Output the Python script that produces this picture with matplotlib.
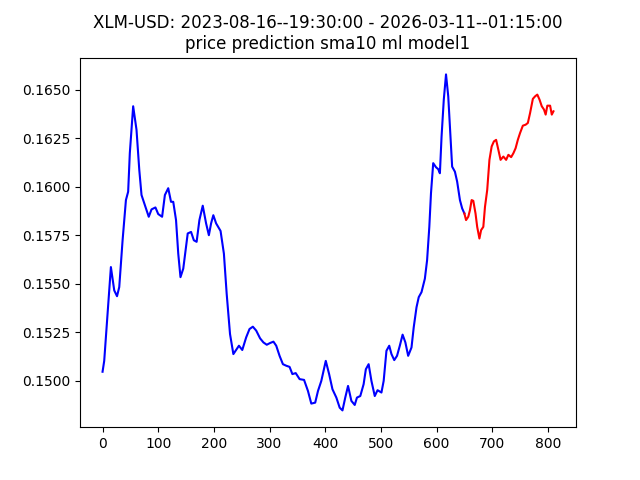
import matplotlib
matplotlib.use("Agg")
import matplotlib.pyplot as plt

# ----------------- DATA -----------------
title = "XLM-USD: 2023-08-16--19:30:00 - 2026-03-11--01:15:00\nprice prediction sma10 ml model1"

hist_x = [0, 3, 9, 15, 21, 26, 30, 36, 42, 46, 49, 55, 61, 66, 70, 78, 83, 88,
          95, 100, 107, 112, 118, 123, 127, 132, 136, 140, 145, 153, 159, 164,
          169, 174, 180, 186, 191, 195, 199, 204, 212, 218, 223, 229, 235, 245,
          251, 258, 264, 270, 276, 283, 289, 295, 301, 307, 312, 318, 324, 330,
          336, 341, 347, 354, 362, 369, 375, 382, 387, 393, 401, 407, 413, 420,
          426, 431, 436, 441, 447, 453, 457, 463, 469, 473, 478, 483, 489, 494,
          501, 505, 510, 515, 519, 524, 529, 534, 539, 544, 549, 555, 559, 564,
          568, 573, 579, 583, 587, 590, 594, 599, 603, 606, 609, 613, 617, 621,
          624, 628, 633, 637, 642, 646, 650]
hist_y = [0.15047, 0.15103, 0.15345, 0.15586, 0.15466, 0.15436, 0.15483,
          0.15724, 0.15931, 0.15974, 0.16173, 0.16414, 0.16293, 0.16086,
          0.15957, 0.15888, 0.15845, 0.15883, 0.15893, 0.15859, 0.15845,
          0.15957, 0.15992, 0.15922, 0.15922, 0.15828, 0.15655, 0.15534,
          0.15578, 0.15759, 0.15767, 0.15724, 0.15716, 0.15828, 0.15902,
          0.15811, 0.15750, 0.15811, 0.15853, 0.15811, 0.15772, 0.15655,
          0.15448, 0.15241, 0.15138, 0.15181, 0.15159, 0.15224, 0.15267,
          0.15279, 0.15259, 0.15219, 0.15198, 0.15186, 0.15195, 0.15202,
          0.15181, 0.15129, 0.15086, 0.15078, 0.15072, 0.15035, 0.15040,
          0.15009, 0.15005, 0.14948, 0.14883, 0.14888, 0.14948, 0.15000,
          0.15103, 0.15035, 0.14957, 0.14914, 0.14862, 0.14848, 0.14914,
          0.14974, 0.14897, 0.14876, 0.14914, 0.14922, 0.14983, 0.15060,
          0.15086, 0.15000, 0.14922, 0.14952, 0.14940, 0.15000, 0.15155,
          0.15181, 0.15138, 0.15107, 0.15129, 0.15181, 0.15238, 0.15198,
          0.15129, 0.15172, 0.15276, 0.15379, 0.15431, 0.15457, 0.15526,
          0.15621, 0.15793, 0.15966, 0.16121, 0.16100, 0.16090, 0.16069,
          0.16258, 0.16448, 0.16578, 0.16465, 0.16310, 0.16103, 0.16077,
          0.16026, 0.15931, 0.15888, 0.15862]

pred_x = [650, 653, 657, 660, 663, 666, 670, 673, 677, 680, 684, 687, 691, 695,
          699, 703, 707, 711, 715, 720, 725, 729, 734, 738, 742, 746, 750, 755,
          760, 764, 768, 773, 777, 781, 785, 789, 793, 796, 799, 804, 807, 810]
pred_y = [0.15862, 0.15828, 0.15845, 0.15879, 0.15931, 0.15927, 0.15862,
          0.15793, 0.15733, 0.15776, 0.15793, 0.15896, 0.15983, 0.16138,
          0.16207, 0.16233, 0.16241, 0.16190, 0.16138, 0.16155, 0.16138,
          0.16164, 0.16152, 0.16172, 0.16198, 0.16241, 0.16276, 0.16314,
          0.16319, 0.16328, 0.16379, 0.16452, 0.16465, 0.16474, 0.16448,
          0.16414, 0.16397, 0.16371, 0.16417, 0.16417, 0.16371, 0.16388]

# ----------------- PLOT -----------------
fig, ax = plt.subplots(figsize=(6.4, 4.8), dpi=100)
ax.plot(hist_x, hist_y, color="blue")
ax.plot(pred_x, pred_y, color="red")
ax.set_title(title)

fig.savefig("out.png")
